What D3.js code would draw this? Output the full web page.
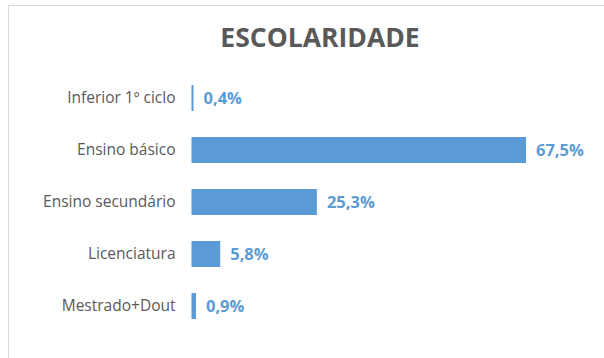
<!DOCTYPE html>
<html>
<head>
<meta charset="utf-8">
<script src="https://cdn.jsdelivr.net/npm/d3@7"></script>
<style>
  body { margin: 0; background: #fff; }
  svg { display: block; }
</style>
</head>
<body>
<div id="chart"></div>
<script>
const title = 'ESCOLARIDADE';
const categories = ['Inferior 1º ciclo', 'Ensino básico', 'Ensino secundário', 'Licenciatura', 'Mestrado+Dout'];
const values = [0.4, 67.5, 25.3, 5.8, 0.9];
const labels = ['0,4%', '67,5%', '25,3%', '5,8%', '0,9%'];

const width = 604, height = 358;
const font = '"Open Sans", "Noto Sans", sans-serif';

const svg = d3.select('#chart').append('svg')
    .attr('width', width)
    .attr('height', height);

// chart area frame (only top and left edges are visible in the crop)
svg.append('rect')
    .attr('x', 8.5).attr('y', 5.5)
    .attr('width', 700).attr('height', 500)
    .attr('fill', 'none')
    .attr('stroke', '#d9d9d9');

svg.append('text')
    .attr('x', 320).attr('y', 47)
    .attr('text-anchor', 'middle')
    .attr('font-family', font)
    .attr('font-weight', 'bold')
    .attr('font-size', 26.5)
    .attr('fill', '#595959')
    .text(title);

const data = categories.map((c, i) => ({ cat: c, value: values[i], label: labels[i] }));

const xScale = d3.scaleLinear().domain([0, 67.5]).range([191.5, 526]);
const yScale = d3.scaleBand().domain(categories).range([72, 332])
    .paddingInner(0.5).paddingOuter(0.25);

const yAxis = svg.append('g')
    .attr('transform', `translate(${xScale(0)},0)`)
    .call(d3.axisLeft(yScale).tickSize(0).tickPadding(16));
yAxis.select('.domain').remove();
yAxis.selectAll('text')
    .attr('font-family', font)
    .attr('font-size', 15.5)
    .attr('fill', '#595959');

svg.selectAll('rect.bar')
    .data(data)
    .enter().append('rect')
    .attr('class', 'bar')
    .attr('x', xScale(0))
    .attr('y', d => yScale(d.cat))
    .attr('width', d => Math.max(2, xScale(d.value) - xScale(0)))
    .attr('height', yScale.bandwidth())
    .attr('fill', '#5b9bd5');

svg.selectAll('text.val')
    .data(data)
    .enter().append('text')
    .attr('class', 'val')
    .attr('x', d => Math.max(xScale(d.value), xScale(0) + 2) + 10)
    .attr('y', d => yScale(d.cat) + yScale.bandwidth() / 2)
    .attr('dy', '0.36em')
    .attr('font-family', font)
    .attr('font-weight', 'bold')
    .attr('font-size', 16.5)
    .attr('fill', '#5b9bd5')
    .text(d => d.label);
</script>
</body>
</html>
